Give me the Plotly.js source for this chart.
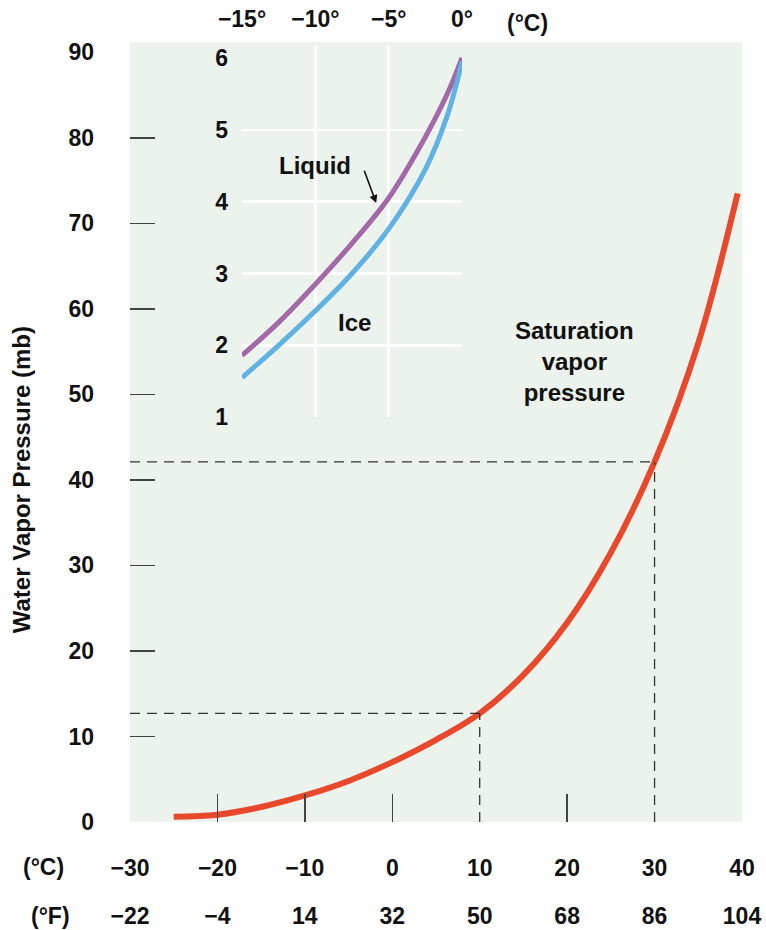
<!DOCTYPE html>
<html>
<head>
<meta charset="utf-8">
<script src="https://cdn.plot.ly/plotly-3.0.1.min.js"></script>
<style>html,body{margin:0;padding:0;background:#fff;}#chart{width:766px;height:930px;}</style>
</head>
<body>
<div id="chart"></div>
<script>
// Main curve: saturation vapor pressure (mb) vs temperature (°C)
const tempC = [-25, -20, -15, -10, -5, 0, 5, 10, 15, 20, 25, 30, 35, 39.5];
const svp   = [0.6, 0.85, 1.75, 3.1, 4.8, 7.0, 9.6, 12.7, 17.2, 23.3, 31.5, 42.1, 56.0, 73.5];

// Axis tick labels
const cTicks  = [-30, -20, -10, 0, 10, 20, 30, 40];
const cLabels = ['\u221230', '\u221220', '\u221210', '0', '10', '20', '30', '40'];
const fLabels = ['\u221222', '\u22124', '14', '32', '50', '68', '86', '104'];
const yTicks  = [0, 10, 20, 30, 40, 50, 60, 70, 80, 90];
const yMarks  = [10, 20, 30, 40, 50, 60, 70, 80];
const xMarks  = [-20, -10, 0, 20];

// Reference points marked with dashed lines
const refT = [10, 30];
const refP = [12.7, 42.1];

// Inset: liquid vs ice below freezing
const insetT   = [-15, -12.5, -10, -7.5, -5, -2.5, -1, 0];
const liquidP  = [1.86, 2.32, 2.85, 3.42, 4.05, 4.9, 5.5, 6.0];
const iceP     = [1.55, 2.0, 2.48, 3.0, 3.62, 4.45, 5.2, 5.95];
const insetXT  = [-15, -10, -5, 0];
const insetXL  = ['\u221215\u00b0', '\u221210\u00b0', '\u22125\u00b0', '0\u00b0'];
const insetYT  = [1, 2, 3, 4, 5, 6];

const FONT = 'Liberation Sans, Arial, sans-serif';
const tf = {family: FONT, size: 23, color: '#111', weight: 'bold'};
const lf = {family: FONT, size: 24, color: '#111', weight: 'bold'};

const traces = [
  {x: tempC, y: svp, type: 'scatter', mode: 'lines', line: {color: '#e8482b', width: 6, shape: 'spline'}, xaxis: 'x', yaxis: 'y', hoverinfo: 'skip'},
  {x: refT, y: refP, type: 'scatter', mode: 'markers', marker: {opacity: 0}, xaxis: 'x2', yaxis: 'y', hoverinfo: 'skip'},
  {x: insetT, y: liquidP, type: 'scatter', mode: 'lines', line: {color: '#a268a8', width: 5, shape: 'spline'}, xaxis: 'x3', yaxis: 'y3', hoverinfo: 'skip'},
  {x: insetT, y: iceP, type: 'scatter', mode: 'lines', line: {color: '#5fb2e2', width: 5, shape: 'spline'}, xaxis: 'x3', yaxis: 'y3', hoverinfo: 'skip'}
];

const shapes = [];
refT.forEach((t, i) => {
  shapes.push({type: 'line', xref: 'x', yref: 'y', x0: -30, x1: t, y0: refP[i], y1: refP[i], line: {color: '#333', width: 1.3, dash: '10px,7px'}, layer: 'above'});
  shapes.push({type: 'line', xref: 'x', yref: 'y', x0: t, x1: t, y0: 0, y1: refP[i], line: {color: '#333', width: 1.3, dash: '10px,7px'}, layer: 'above'});
});
shapes.push({type: 'rect', xref: 'x3 domain', yref: 'y3 domain', x0: 0, x1: 1, y0: 0, y1: 1, fillcolor: '#ddd6e7', line: {width: 0}, layer: 'below'});

const annotations = [
  {xref: 'paper', yref: 'paper', x: -0.176, y: 0.4385, text: 'Water Vapor Pressure (mb)', textangle: -90, showarrow: false, font: {family: FONT, size: 24, color: '#111', weight: 'bold'}, xanchor: 'center', yanchor: 'middle'},
  {xref: 'paper', yref: 'paper', x: -0.142, y: -0.058, text: '(\u00b0C)', showarrow: false, font: tf, xanchor: 'center', yanchor: 'middle'},
  {xref: 'paper', yref: 'paper', x: -0.130, y: -0.12, text: '(\u00b0F)', showarrow: false, font: tf, xanchor: 'center', yanchor: 'middle'},
  {xref: 'paper', yref: 'paper', x: 0.649, y: 1.025, text: '(\u00b0C)', showarrow: false, font: tf, xanchor: 'center', yanchor: 'middle'},
  {xref: 'x', yref: 'y', x: 20.8, y: 53.8, text: 'Saturation<br>vapor<br>pressure', showarrow: false, font: lf, xanchor: 'center', yanchor: 'middle'},
  {xref: 'x3', yref: 'y3', x: -10.0, y: 4.5, text: 'Liquid', showarrow: false, font: lf, xanchor: 'center', yanchor: 'middle'},
  {xref: 'x3', yref: 'y3', x: -7.3, y: 2.32, text: 'Ice', showarrow: false, font: lf, xanchor: 'center', yanchor: 'middle'},
  {xref: 'x3', yref: 'y3', x: -5.85, y: 3.98, axref: 'x3', ayref: 'y3', ax: -6.7, ay: 4.45, text: '', showarrow: true, arrowhead: 2, arrowsize: 1, arrowwidth: 1.6, arrowcolor: '#111', standoff: 0}
];

const layout = {
  width: 766, height: 930,
  margin: {l: 130, r: 24, t: 42, b: 108},
  paper_bgcolor: '#ffffff',
  plot_bgcolor: '#ecf2ec',
  showlegend: false,
  font: {family: FONT, color: '#111'},
  xaxis: {
    domain: [0, 1], range: [-30, 40], anchor: 'y',
    tickvals: cTicks, ticktext: cLabels, ticks: '', tickfont: tf,
    ticklabelstandoff: 30, showgrid: false, zeroline: false, showline: false,
    minor: {tickvals: xMarks, ticks: 'inside', ticklen: 28, tickwidth: 1.5, tickcolor: '#444', showgrid: false},
    fixedrange: true
  },
  xaxis2: {
    overlaying: 'x', range: [-30, 40], anchor: 'y', side: 'bottom',
    tickvals: cTicks, ticktext: fLabels, ticks: '', tickfont: tf,
    ticklabelstandoff: 78, showgrid: false, zeroline: false, showline: false, fixedrange: true
  },
  yaxis: {
    domain: [0, 1], range: [0, 91.2], anchor: 'x',
    tickvals: yTicks, ticks: '', tickfont: tf, ticklabelstandoff: 35,
    showgrid: false, zeroline: false, showline: false,
    minor: {tickvals: yMarks, ticks: 'inside', ticklen: 25, tickwidth: 1.5, tickcolor: '#444', showgrid: false},
    fixedrange: true
  },
  xaxis3: {
    domain: [0.183, 0.5425], range: [-15, 0], anchor: 'y3', side: 'top',
    tickvals: insetXT, ticktext: insetXL, ticks: '', tickfont: tf, ticklabelstandoff: 12,
    showgrid: false, zeroline: false, showline: false,
    minor: {tickvals: [-10, -5], showgrid: true, gridcolor: '#ffffff', gridwidth: 2.5, ticks: ''},
    fixedrange: true
  },
  yaxis3: {
    domain: [0.519, 0.9962], range: [1, 6.18], anchor: 'x3',
    tickvals: insetYT, ticks: '', tickfont: tf, ticklabelstandoff: 13,
    showgrid: false, zeroline: false, showline: false,
    minor: {tickvals: [2, 3, 4, 5], showgrid: true, gridcolor: '#ffffff', gridwidth: 2.5, ticks: ''},
    fixedrange: true
  },
  shapes: shapes,
  annotations: annotations
};

Plotly.newPlot('chart', traces, layout, {displayModeBar: false, staticPlot: true});
</script>
</body>
</html>
